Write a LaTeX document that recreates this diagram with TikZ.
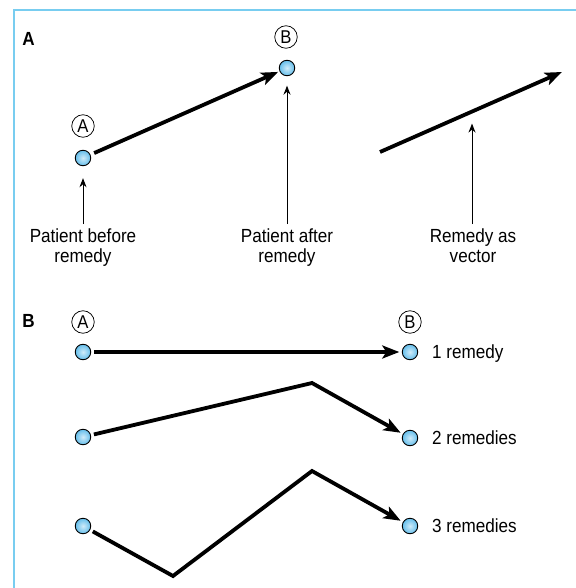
\documentclass[tikz,border=0pt]{standalone}
\usepackage{fontspec}
\setmainfont{Liberation Sans}
\newfontfamily\narrowf[FakeStretch=0.9]{Liberation Sans}
\usetikzlibrary{arrows.meta,calc}
\definecolor{framec}{RGB}{120,205,240}
\definecolor{dotc}{RGB}{100,190,235}
\begin{document}
\begin{tikzpicture}[x=1pt,y=-1pt,
  dot/.style={circle,draw=black,line width=0.9pt,inner sep=0pt,minimum size=15.5pt,
    shading=radial,inner color=dotc!30!white,outer color=dotc},
  circlet/.style={circle,draw=black,line width=0.75pt,inner sep=0pt,minimum size=22.5pt,
    font=\narrowf\fontsize{18.5}{18.5}\selectfont},
  lbl/.style={font=\narrowf\fontsize{19}{20}\selectfont,align=center,anchor=north,inner sep=0pt},
  rl/.style={font=\narrowf\fontsize{19}{20}\selectfont,anchor=base west,inner sep=0pt},
  bigarrow/.style={line width=3.8pt,-{Stealth[length=17pt,width=13pt,inset=4pt]}},
  thinarrow/.style={line width=1pt,-{Stealth[length=9pt,width=7pt]}},
  panel/.style={font=\narrowf\bfseries\fontsize{19}{19}\selectfont,inner sep=0pt}
]
\useasboundingbox (0,0) rectangle (575,588);
% frame
\draw[framec,line width=2.5pt] (14,590) -- (14,10) -- (577,10);

% panel labels
\node[panel] (pA) at (28.5,39) {A};
\node[panel] (pB) at (28.5,321) {B};

% ---------- Panel A ----------
\node[dot] (dA) at (83,158) {};
\node[dot] (dB) at (287,68) {};
\node[circlet] (cA) at (83,126) {A};
\node[circlet] (cB) at (286,37) {B};
\draw[bigarrow,shorten <=4pt,shorten >=1.5pt] (dA) -- (dB);

\node[lbl] (t1) at (83,229) {Patient before\\remedy};
\node[lbl] (t2) at (287,229) {Patient after\\remedy};
\node[lbl] (t3) at (473,229) {Remedy as\\vector};

\draw[thinarrow,shorten <=5pt,shorten >=12pt] (t1.north) -- (dA.south);
\draw[thinarrow,shorten <=5pt,shorten >=9.5pt] (t2.north -| dB.south) -- (dB.south);

\coordinate (vs) at (380,152);
\coordinate (ve) at (562,72);
\draw[bigarrow] (vs) -- (ve);
\coordinate (vm) at ($(vs)!0.5055!(ve)$);
\draw[thinarrow,shorten <=5pt,shorten >=12pt] (t3.north -| vm) -- (vm);

% ---------- Panel B ----------
\node[circlet] (cA2) at (83,322) {A};
\node[circlet] (cB2) at (410,322) {B};

\node[dot] (a1) at (83,352) {};
\node[dot] (b1) at (410,352) {};
\node[dot] (a2) at (83,437) {};
\node[dot] (b2) at (410,438) {};
\node[dot] (a3) at (83,526) {};
\node[dot] (b3) at (410,526) {};

\coordinate (p2) at (312,383);
\coordinate (q3) at (173,576);
\coordinate (p3) at (312,471);

\draw[bigarrow,shorten <=3pt,shorten >=2.5pt] (a1) -- (b1);
\draw[bigarrow,shorten <=3pt,shorten >=2.5pt] (a2) -- (p2) -- (b2);
\draw[bigarrow,shorten <=3pt,shorten >=2.5pt] (a3) -- (q3) -- (p3) -- (b3);

\node[rl] (r1) at (432,358.5) {1 remedy};
\node[rl] (r2) at (432,444.5) {2 remedies};
\node[rl] (r3) at (432,532.5) {3 remedies};
\end{tikzpicture}
\end{document}
